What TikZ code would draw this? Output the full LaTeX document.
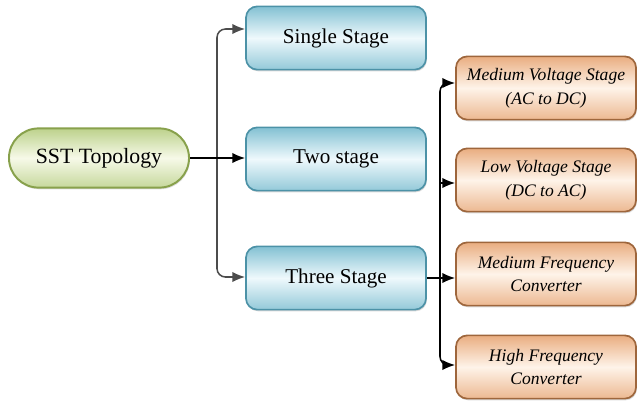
\documentclass[tikz,border=0pt]{standalone}
\usepackage{fontspec}
\setmainfont{Liberation Serif}
\definecolor{topgreen}{RGB}{160, 190, 90}
\definecolor{topgreenlt}{RGB}{238, 244, 210}
\definecolor{stageblue}{RGB}{90, 172, 196}
\definecolor{stagebluelt}{RGB}{214, 240, 248}
\definecolor{partorange}{RGB}{226, 146, 86}
\definecolor{partorangelt}{RGB}{253, 226, 200}
\usetikzlibrary{shapes, arrows.meta, positioning, calc, shadows}

\begin{document}
\begin{tikzpicture}[x=0.025cm, y=-0.025cm,
  rootbox/.style={draw=topgreen!85!black, line width=1.4pt, rounded corners=0.74cm, top color=topgreen!70, bottom color=topgreen!60, middle color=topgreenlt!50, minimum width=4.5cm, minimum height=1.48cm, font=\fontsize{15.5}{18}\selectfont, drop shadow={opacity=0.25, shadow xshift=0.6pt, shadow yshift=-1.2pt}},
  stagebox/.style={draw=stageblue!85!black, line width=1.2pt, rounded corners=8pt, top color=stageblue!75, bottom color=stageblue!65, middle color=stagebluelt!40, minimum width=4.5cm, minimum height=1.58cm, font=\fontsize{15}{18}\selectfont, drop shadow={opacity=0.3, shadow xshift=0.6pt, shadow yshift=-1.2pt}},
  partbox/.style={draw=partorange!70!black, line width=1.2pt, rounded corners=8pt, top color=partorange!75, bottom color=partorange!65, middle color=partorangelt!40, minimum width=4.5cm, minimum height=1.58cm, align=center, font=\fontsize{12.5}{17}\selectfont\itshape, drop shadow={opacity=0.3, shadow xshift=0.6pt, shadow yshift=-1.2pt}},
  conn/.style={line width=1.1pt, -{Latex[length=3.2mm, width=2.6mm]}},
  both/.style={line width=1.1pt, {Latex[length=3.2mm, width=2.6mm]}-{Latex[length=3.2mm, width=2.6mm]}, rounded corners=6pt}
]
  \useasboundingbox (0,0) rectangle (639,403);

  % Topology root
  \node[rootbox] (sst) at (99,158) {SST Topology};

  % Stages
  \node[stagebox] (single) at (336,38) {Single Stage};
  \node[stagebox] (two) at (336,159) {Two stage};
  \node[stagebox] (three) at (336,278) {Three Stage};

  % Parts of the three stage
  \node[partbox] (mv) at (546,88) {Medium Voltage Stage\\(AC to DC)};
  \node[partbox] (lv) at (546,180) {Low Voltage Stage\\(DC to AC)};
  \node[partbox] (mf) at (546,274) {Medium Frequency\\Converter};
  \node[partbox] (hf) at (546,367) {High Frequency\\Converter};

  % Left tree
  \coordinate (ltop) at (217,29);
  \coordinate (lbot) at (217,277);
  \draw[both, draw=black!70] (single.west |- ltop) -- (ltop) -- (lbot) -- (three.west |- lbot);
  \draw[conn] (sst.east) -- (sst.east -| two.west);

  % Right tree
  \coordinate (rtop) at (440,83);
  \coordinate (rbot) at (440,365);
  \draw[both] (mv.west |- rtop) -- (rtop) -- (rbot) -- (hf.west |- rbot);
  \draw[conn] (rtop |- 0,183) -- (lv.west |- 0,183);
  \draw[conn] (three.east) -- (mf.west |- three.east);
\end{tikzpicture}
\end{document}
